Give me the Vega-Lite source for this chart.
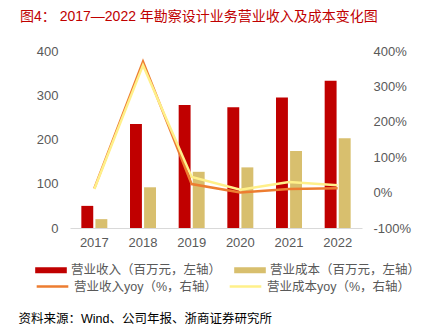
{
  "$schema": "https://vega.github.io/schema/vega-lite/v6.json",
  "autosize": {"type": "none"},
  "padding": {"left": 70, "top": 51, "right": 71, "bottom": 102},
  "width": 292,
  "height": 177,
  "title": {
    "text": "图4：  2017—2022 年勘察设计业务营业收入及成本变化图",
    "anchor": "start",
    "frame": "group",
    "dx": -50,
    "offset": 21,
    "color": "#C00000",
    "font": "Liberation Sans, Noto Sans CJK SC",
    "fontSize": 14,
    "fontWeight": "normal"
  },
  "config": {
    "view": {"stroke": null},
    "axis": {
      "labelColor": "#595959",
      "labelFont": "Liberation Sans",
      "labelFontSize": 13,
      "ticks": false,
      "domain": false,
      "grid": false
    },
    "legend": {
      "labelColor": "#595959",
      "labelFont": "Liberation Sans, Noto Sans CJK SC",
      "labelFontSize": 12.5,
      "padding": 0,
      "labelOffset": 4
    }
  },
  "datasets": {
    "bars": [
      {"year": "2017", "series": "营业收入（百万元，左轴）", "value": 50},
      {"year": "2018", "series": "营业收入（百万元，左轴）", "value": 235},
      {"year": "2019", "series": "营业收入（百万元，左轴）", "value": 278},
      {"year": "2020", "series": "营业收入（百万元，左轴）", "value": 273},
      {"year": "2021", "series": "营业收入（百万元，左轴）", "value": 295},
      {"year": "2022", "series": "营业收入（百万元，左轴）", "value": 333},
      {"year": "2017", "series": "营业成本（百万元，左轴）", "value": 20},
      {"year": "2018", "series": "营业成本（百万元，左轴）", "value": 92},
      {"year": "2019", "series": "营业成本（百万元，左轴）", "value": 127},
      {"year": "2020", "series": "营业成本（百万元，左轴）", "value": 137},
      {"year": "2021", "series": "营业成本（百万元，左轴）", "value": 174},
      {"year": "2022", "series": "营业成本（百万元，左轴）", "value": 203}
    ],
    "lines": [
      {"year": "2017", "series": "营业收入yoy（%，右轴）", "yoy": 12},
      {"year": "2018", "series": "营业收入yoy（%，右轴）", "yoy": 370},
      {"year": "2019", "series": "营业收入yoy（%，右轴）", "yoy": 24},
      {"year": "2020", "series": "营业收入yoy（%，右轴）", "yoy": 0},
      {"year": "2021", "series": "营业收入yoy（%，右轴）", "yoy": 10},
      {"year": "2022", "series": "营业收入yoy（%，右轴）", "yoy": 12},
      {"year": "2017", "series": "营业成本yoy（%，右轴）", "yoy": 10},
      {"year": "2018", "series": "营业成本yoy（%，右轴）", "yoy": 360},
      {"year": "2019", "series": "营业成本yoy（%，右轴）", "yoy": 44},
      {"year": "2020", "series": "营业成本yoy（%，右轴）", "yoy": 8},
      {"year": "2021", "series": "营业成本yoy（%，右轴）", "yoy": 30},
      {"year": "2022", "series": "营业成本yoy（%，右轴）", "yoy": 21}
    ]
  },
  "layer": [
    {
      "data": {"name": "bars"},
      "mark": {"type": "bar"},
      "encoding": {
        "x": {
          "field": "year",
          "type": "nominal",
          "scale": {"paddingInner": 0.466, "paddingOuter": 0.233},
          "axis": {
            "labelAngle": 0,
            "labelPadding": 8,
            "domain": true,
            "domainColor": "#D9D9D9",
            "domainWidth": 1,
            "title": "资料来源：Wind、公司年报、浙商证券研究所",
            "titleFont": "Liberation Sans, Noto Sans CJK SC",
            "titleFontSize": 12.5,
            "titleFontWeight": "normal",
            "titleColor": "#000000",
            "titleAnchor": null,
            "titleAlign": "left",
            "titleBaseline": "middle",
            "titleX": -52,
            "titleY": 90
          }
        },
        "xOffset": {
          "field": "series",
          "type": "nominal",
          "sort": ["营业收入（百万元，左轴）", "营业成本（百万元，左轴）"],
          "scale": {"paddingInner": 0.154, "paddingOuter": 0}
        },
        "y": {
          "field": "value",
          "type": "quantitative",
          "scale": {"domain": [0, 400], "nice": false},
          "axis": {"orient": "left", "values": [0, 100, 200, 300, 400], "labelPadding": 12, "title": null}
        },
        "color": {
          "field": "series",
          "type": "nominal",
          "scale": {
            "domain": ["营业收入（百万元，左轴）", "营业成本（百万元，左轴）"],
            "range": ["#C00000", "#D8BF6E"]
          },
          "legend": {
            "title": null,
            "orient": "none",
            "legendX": -35,
            "legendY": 203,
            "direction": "horizontal",
            "columns": 2,
            "columnPadding": 12,
            "symbolType": "M-1,-0.19H1V0.19H-1Z",
            "symbolSize": 1000,
            "symbolStrokeWidth": 0
          }
        }
      }
    },
    {
      "data": {"name": "lines"},
      "mark": {"type": "line", "strokeWidth": 2.5},
      "encoding": {
        "x": {"field": "year", "type": "nominal"},
        "y": {
          "field": "yoy",
          "type": "quantitative",
          "scale": {"domain": [-100, 400], "nice": false},
          "axis": {
            "orient": "right",
            "values": [-100, 0, 100, 200, 300, 400],
            "labelExpr": "datum.value + '%'",
            "labelPadding": 11,
            "title": null
          }
        },
        "stroke": {
          "field": "series",
          "type": "nominal",
          "sort": null,
          "scale": {
            "domain": ["营业收入yoy（%，右轴）", "营业成本yoy（%，右轴）"],
            "range": ["#ED7D31", "#FFF08A"]
          },
          "legend": {
            "title": null,
            "orient": "none",
            "legendX": -35,
            "legendY": 218,
            "direction": "horizontal",
            "columns": 2,
            "columnPadding": 6,
            "symbolType": "stroke",
            "symbolSize": 1000,
            "symbolStrokeWidth": 2.5
          }
        }
      }
    }
  ],
  "resolve": {"scale": {"y": "independent"}}
}
